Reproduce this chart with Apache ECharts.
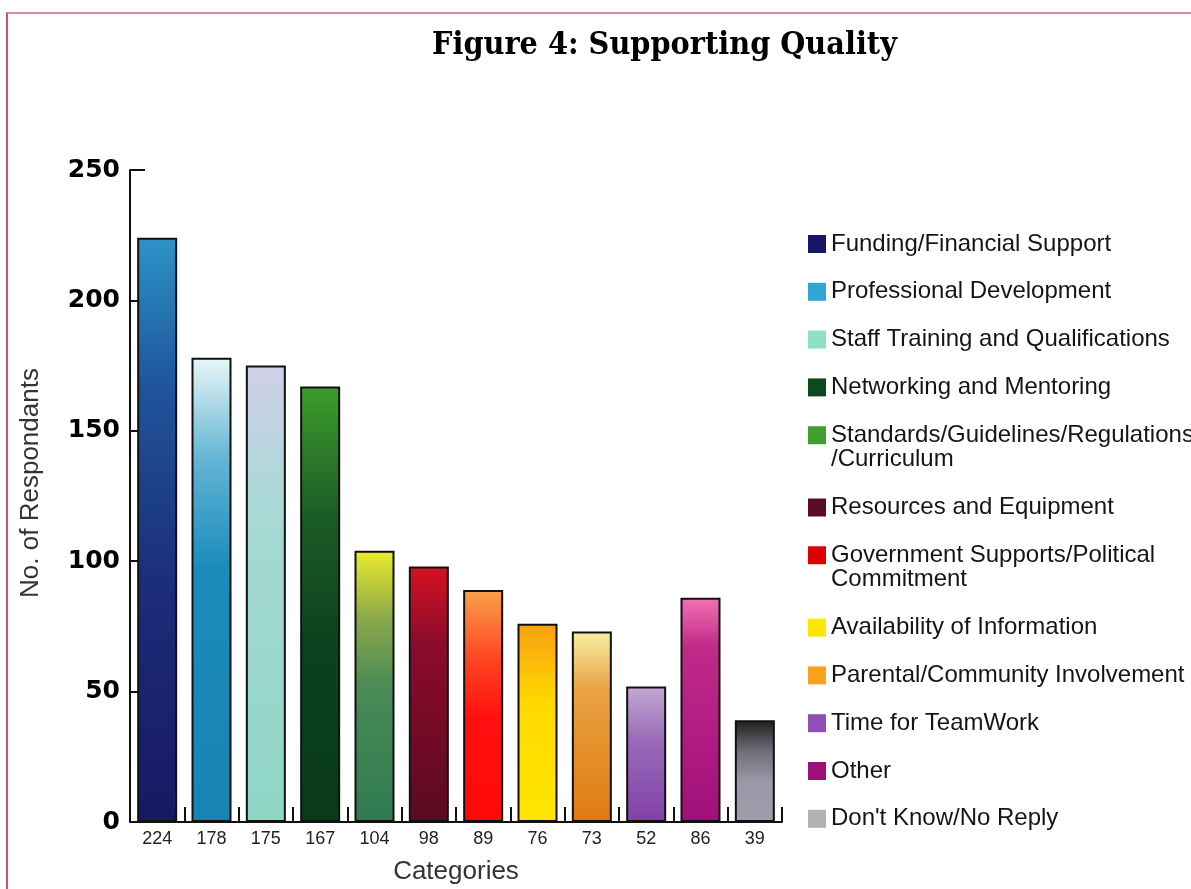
<!DOCTYPE html>
<html>
<head>
<meta charset="utf-8">
<title>Figure 4: Supporting Quality</title>
<script src="https://cdn.jsdelivr.net/npm/echarts@6/dist/echarts.min.js"></script>
<style>
  html, body { margin: 0; padding: 0; background: #ffffff; }
  #frame {
    position: absolute; left: 6px; top: 12px; width: 1185px; height: 877px;
    border-top: 2px solid #d98aa6; border-left: 2px solid #cf4f7d; box-sizing: border-box;
  }
  #chart { position: absolute; left: 0; top: 0; width: 1191px; height: 889px; }
</style>
</head>
<body>
<div id="frame"></div>
<div id="chart"></div>
<script>
// Survey answers: what supports quality, number of respondents per category
const categories = [
  'Funding/Financial Support',
  'Professional Development',
  'Staff Training and Qualifications',
  'Networking and Mentoring',
  'Standards/Guidelines/Regulations\n/Curriculum',
  'Resources and Equipment',
  'Government Supports/Political\nCommitment',
  'Availability of Information',
  'Parental/Community Involvement',
  'Time for TeamWork',
  'Other',
  "Don't Know/No Reply"
];
const counts = [224, 178, 175, 167, 104, 98, 89, 76, 73, 52, 86, 39];

// Value axis range
const yMin = 0;
const yMax = 250;
const yStep = 50;

// Flat swatch colours used in the key
const legendColors = [
  '#171565', '#2fa6d6', '#8fdfc6', '#0b4a1e', '#3f9f2f', '#5b0c22',
  '#dd0000', '#ffe600', '#f7a11f', '#8f4fb7', '#9f0f78', '#b2b2b2'
];

// Vertical gradients for the bars (top -> bottom)
const barGradients = [
  [[0, '#2c92c8'], [0.25, '#1f559a'], [0.6, '#1b2c7b'], [1, '#181862']],
  [[0, '#e8f7f7'], [0.22, '#62b4d3'], [0.45, '#1a8cbc'], [1, '#1884b3']],
  [[0, '#d0d0e8'], [0.3, '#a8d9d6'], [1, '#8ed6c4']],
  [[0, '#3e9c2c'], [0.3, '#1a5c25'], [0.6, '#0d401d'], [1, '#083a18']],
  [[0, '#ecec2e'], [0.25, '#8aa948'], [0.5, '#4a8b56'], [1, '#2e7a50']],
  [[0, '#d31222'], [0.3, '#8c0b2a'], [1, '#5a0a22']],
  [[0, '#f8a24a'], [0.3, '#ff4522'], [0.55, '#ff1010'], [1, '#ff0808']],
  [[0, '#f8a010'], [0.4, '#ffd900'], [1, '#ffe600']],
  [[0, '#f7f1a2'], [0.3, '#e9a343'], [1, '#e07a10']],
  [[0, '#c2aad2'], [0.4, '#9a6ab9'], [1, '#8041a8']],
  [[0, '#f272b2'], [0.22, '#c02a89'], [1, '#a0107a']],
  [[0, '#1e1e1e'], [0.3, '#6e6e78'], [0.6, '#9898a8'], [1, '#9d9dac']]
];

const sansFont = '"Liberation Sans", Arial, Helvetica, sans-serif';

// Key layout: one small legend per entry so that a wrapped name keeps
// its swatch beside the first line.
const keyLeft = 803;
const keyFirstCenter = 244;
const keyRowStep = 47.8;
const keyLineHeight = 24.5;
const keyPad = 5;
const swatch = 18;

// Swatch drawn in the top part of a taller icon box; the tiny second
// triangle only stretches the box so the square keeps its size.
function swatchIcon(boxHeight) {
  return 'path://M0,0H' + swatch + 'V' + swatch + 'H0Z' +
    'M0,' + (boxHeight - 0.01) + 'L0.01,' + boxHeight + 'L0,' + boxHeight + 'Z';
}

const legends = [];
let keyCenter = keyFirstCenter;
categories.forEach((name, i) => {
  const lines = name.split('\n').length;
  const boxHeight = swatch + keyLineHeight * (lines - 1);
  legends.push({
    orient: 'vertical',
    left: keyLeft,
    top: keyCenter - keyPad - keyLineHeight / 2,
    padding: keyPad,
    itemWidth: swatch,
    itemHeight: boxHeight,
    selectedMode: false,
    icon: lines > 1 ? swatchIcon(boxHeight) : 'rect',
    itemStyle: { borderWidth: 0 },
    textStyle: {
      fontFamily: sansFont,
      fontSize: 24,
      lineHeight: keyLineHeight,
      color: '#151515'
    },
    data: [{ name: name, itemStyle: { color: legendColors[i], borderWidth: 0 } }]
  });
  keyCenter += keyRowStep + keyLineHeight * (lines - 1);
});

const chart = echarts.init(document.getElementById('chart'), null, { renderer: 'canvas' });

chart.setOption({
  animation: false,
  backgroundColor: 'transparent',
  title: {
    text: 'Figure 4: Supporting Quality',
    left: 427,
    top: 25,
    textStyle: {
      fontFamily: '"DejaVu Serif Condensed", "DejaVu Serif", serif',
      fontWeight: 'bold',
      fontSize: 32,
      color: '#000000'
    }
  },
  legend: legends,
  grid: { left: 130, right: 409, top: 170, bottom: 67, containLabel: false, outerBoundsMode: 'none' },
  xAxis: {
    type: 'category',
    data: categories,
    boundaryGap: true,
    axisLine: { show: true, lineStyle: { color: '#111111', width: 2 } },
    axisTick: { show: true, inside: true, length: 15, lineStyle: { color: '#111111', width: 2 } },
    axisLabel: {
      formatter: (value, index) => String(counts[index]),
      fontFamily: sansFont,
      fontSize: 18,
      color: '#222222',
      margin: 8
    },
    splitLine: { show: false },
    name: 'Categories',
    nameLocation: 'middle',
    nameGap: 37,
    nameTextStyle: { fontFamily: sansFont, fontSize: 26, color: '#333333' }
  },
  yAxis: {
    type: 'value',
    min: yMin,
    max: yMax,
    interval: yStep,
    axisLine: { show: true, lineStyle: { color: '#111111', width: 2 } },
    axisTick: { show: true, inside: true, length: 15, lineStyle: { color: '#111111', width: 2 } },
    splitLine: { show: false },
    axisLabel: {
      fontFamily: '"DejaVu Sans", Verdana, sans-serif',
      fontWeight: 'bold',
      fontSize: 25,
      color: '#000000',
      margin: 10
    },
    name: 'No. of Respondants',
    nameLocation: 'middle',
    nameGap: 86,
    nameRotate: 90,
    nameTextStyle: { fontFamily: sansFont, fontSize: 26, color: '#333333', padding: [0, 0, 0, 26] }
  },
  series: categories.map((name, i) => ({
    name: name,
    type: 'bar',
    stack: 'responses',
    barWidth: 40,
    emphasis: { disabled: true },
    itemStyle: {
      color: new echarts.graphic.LinearGradient(0, 0, 0, 1,
        barGradients[i].map(s => ({ offset: s[0], color: s[1] }))),
      borderColor: '#111111',
      borderWidth: 2
    },
    data: counts.map((v, j) => (j === i ? v : '-'))
  }))
});
</script>
</body>
</html>
